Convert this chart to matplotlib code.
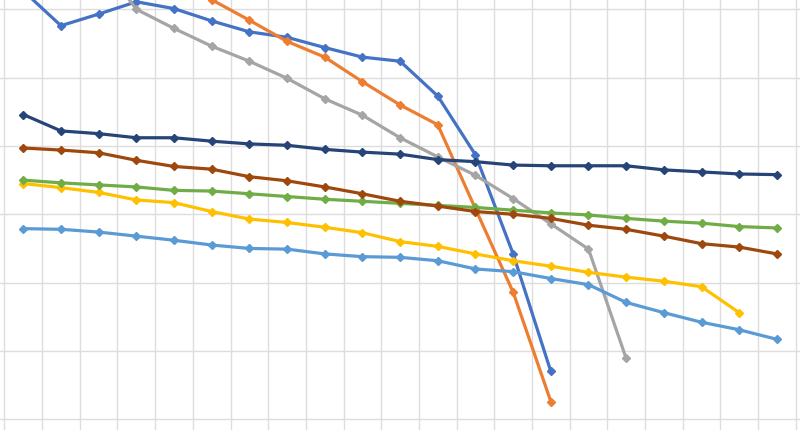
import numpy as np
import matplotlib
matplotlib.use("Agg")
import matplotlib.pyplot as plt

# categorias 0..20 (eixo sem rotulos)
categorias = list(range(21))

# series (unidade = 1 linha de grade)
azul = [6.27, 5.76, 5.93, 6.11, 6.01, 5.83, 5.67, 5.59, 5.44, 5.30, 5.24, 4.73, 3.87, 2.42, 0.70]
laranja = [7.6, 7.3, 7.0, 6.7, 6.4, 6.14, 5.84, 5.53, 5.30, 4.94, 4.60, 4.31, 3.08, 1.86, 0.26]
cinza = [7.6, 7.2, 6.75, 6.0, 5.72, 5.46, 5.24, 4.99, 4.69, 4.45, 4.12, 3.84, 3.57, 3.23, 2.86, 2.49, 0.89]
amarelo = [3.45, 3.39, 3.32, 3.21, 3.17, 3.04, 2.93, 2.88, 2.81, 2.73, 2.60, 2.53, 2.42, 2.32,
           2.24, 2.15, 2.08, 2.02, 1.94, 1.56]
azul_claro = [2.79, 2.78, 2.74, 2.68, 2.62, 2.55, 2.50, 2.49, 2.42, 2.38, 2.37, 2.32, 2.20, 2.16,
              2.06, 1.97, 1.71, 1.56, 1.42, 1.31, 1.17]
verde = [3.50, 3.46, 3.43, 3.40, 3.35, 3.34, 3.30, 3.26, 3.22, 3.19, 3.16, 3.13, 3.10, 3.06,
         3.02, 2.99, 2.94, 2.90, 2.87, 2.82, 2.80]
azul_escuro = [4.46, 4.22, 4.18, 4.12, 4.12, 4.07, 4.03, 4.01, 3.95, 3.91, 3.88, 3.80, 3.77, 3.72,
               3.71, 3.71, 3.71, 3.65, 3.62, 3.59, 3.58]
marrom = [3.97, 3.94, 3.90, 3.79, 3.70, 3.66, 3.55, 3.49, 3.40, 3.30, 3.19, 3.12, 3.04, 3.00,
          2.94, 2.84, 2.78, 2.68, 2.57, 2.52, 2.42]

series = [azul, laranja, cinza, amarelo, azul_claro, verde, azul_escuro, marrom]
cores = ["#4472C4", "#ED7D31", "#A5A5A5", "#FFC000", "#5B9BD5", "#70AD47", "#264478", "#9E480E"]

fig = plt.figure(figsize=(8, 4.3), dpi=100)
ax = fig.add_axes([0, 0, 1, 1])

for s, c in zip(series, cores):
    plt.plot(categorias[:len(s)], s, color=c, linewidth=2.3, marker="D", markersize=4,
             solid_joinstyle="round", clip_on=True)

ax.set_xlim(-0.618, 20.613)
ax.set_ylim(-0.157, 6.136)
ax.set_xticks(np.arange(-0.5, 21, 1))
ax.set_yticks(np.arange(0, 7, 1))
ax.grid(True, color="#DDDDDD", linewidth=1.0)
ax.set_axisbelow(True)
ax.tick_params(length=0, labelbottom=False, labelleft=False)
for sp in ax.spines.values():
    sp.set_visible(False)

plt.savefig("out.png", dpi=100)
